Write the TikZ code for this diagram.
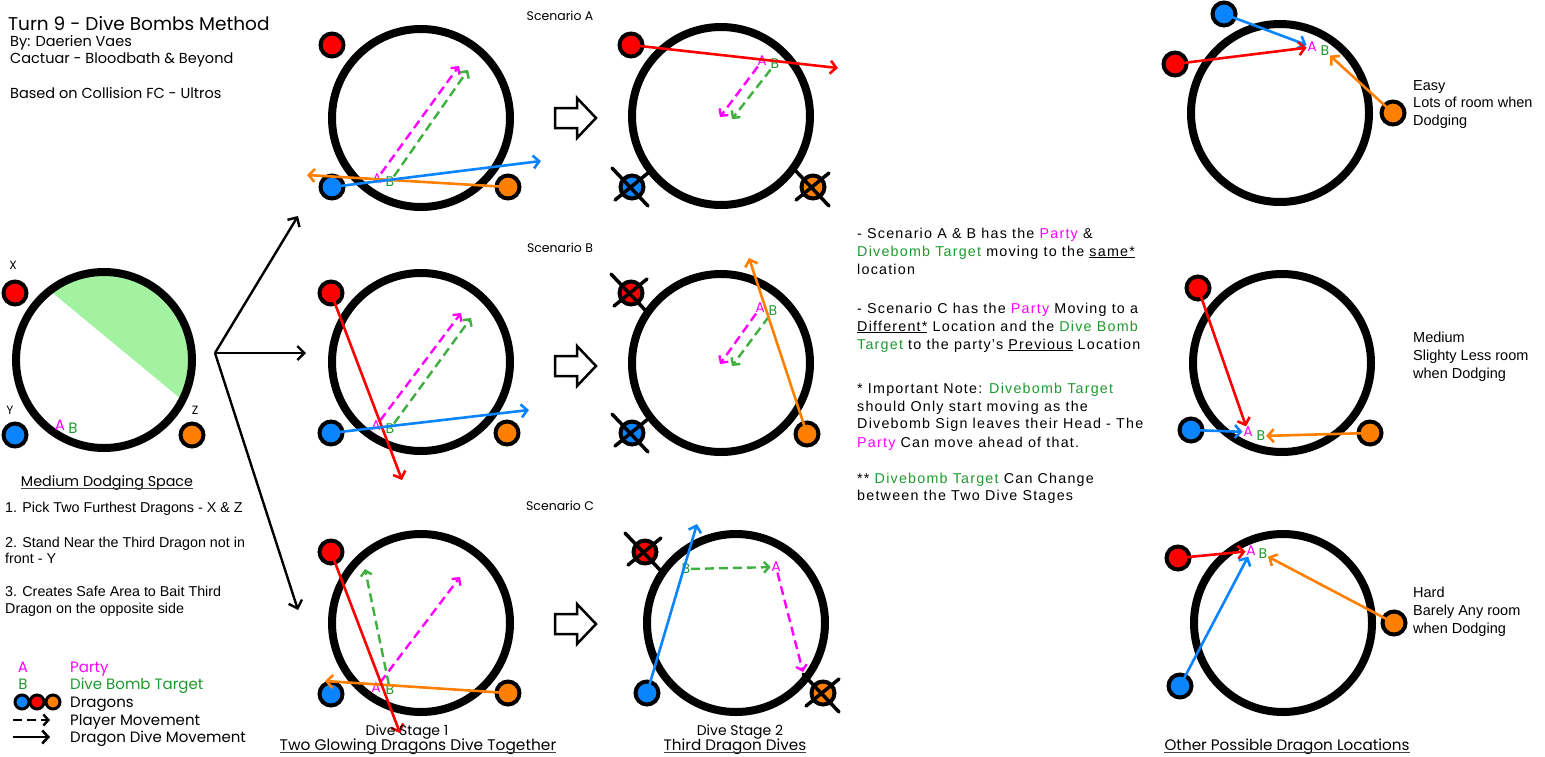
\documentclass[tikz,border=0pt]{standalone}
\usepackage{fontspec}
\setmainfont{Liberation Sans}
\newfontfamily\sty{Poppins}
\newfontfamily\midf[LetterSpace=8.5]{Liberation Sans}
\usetikzlibrary{arrows.meta,calc}
\definecolor{dred}{HTML}{FF0000}
\definecolor{dblue}{HTML}{0A84FF}
\definecolor{dorange}{HTML}{FF8000}
\definecolor{pmag}{HTML}{FF00FF}
\definecolor{tgreen}{HTML}{1E9A2E}
\definecolor{dgreen}{HTML}{3FAF3F}
\definecolor{safe}{HTML}{A2F2A2}
\newcommand{\pty}[1]{\textcolor{pmag}{#1}}
\newcommand{\dbt}[1]{\textcolor{tgreen}{#1}}
\newcommand{\xmark}[1]{%
  \draw[xline] ($(#1)+(-20,-19)$) -- ($(#1)+(16,19)$);
  \draw[xline] ($(#1)+(16,-14)$) -- ($(#1)+(-17,13)$);}
\newcommand{\blockarrow}[1]{%
  \draw[blk] ($(#1)+(0,-10)$) -- ($(#1)+(22,-10)$) -- ($(#1)+(22,-20)$) -- ($(#1)+(41,0)$)
     -- ($(#1)+(22,20)$) -- ($(#1)+(22,10)$) -- ($(#1)+(0,10)$) -- cycle;}
\newcommand{\ul}[1]{\draw[ulin] ([yshift=-2.3pt]#1.base west) -- ([yshift=-2.3pt]#1.base east);}
\begin{document}
\begin{tikzpicture}[x=1pt,y=-1pt,
  arena/.style={circle,draw=black,line width=8pt,minimum size=178pt,inner sep=0pt},
  dragon/.style={circle,draw=black,line width=4pt,minimum size=23pt,inner sep=0pt},
  ldragon/.style={circle,draw=black,line width=3pt,minimum size=14pt,inner sep=0pt},
  dive/.style={line width=2.6pt,-{Straight Barb[length=6pt,width=13pt]}},
  move/.style={line width=2.4pt,dash pattern=on 9pt off 5pt,-{Straight Barb[length=5pt,width=11pt]}},
  bigarr/.style={line width=2.4pt,-{Straight Barb[length=7pt,width=14pt]}},
  xline/.style={line width=3.5pt,line cap=round},
  blk/.style={draw=black,line width=2.5pt,fill=white,line join=miter},
  ulin/.style={draw=black!75,line width=0.9pt},
  lab/.style={inner sep=0.5pt,font=\sty\fontsize{14}{14}\selectfont},
  ty/.style={anchor=base west,inner sep=0pt,font=\sty\fontsize{14.5}{16}\selectfont},
  tyc/.style={anchor=base,inner sep=0pt,font=\sty\fontsize{14.5}{16}\selectfont},
  tx/.style={anchor=base west,inner sep=0pt,font=\fontsize{14.3}{17}\selectfont},
  tm/.style={anchor=base west,inner sep=0pt,font=\midf\fontsize{14.3}{17}\selectfont},
  tr/.style={anchor=base west,inner sep=0pt,font=\fontsize{14.5}{17}\selectfont}
]
\fill[white] (0,0) rectangle (1545,756);
\useasboundingbox (0,0) rectangle (1545,756);

% ---------- header ----------
\node[ty,font=\sty\fontsize{18.5}{20}\selectfont] (title) at (8,30) {Turn 9 - Dive Bombs Method};
\node[ty] (by) at (10,46) {By: Daerien Vaes};
\node[ty] (srv) at (10,63) {Cactuar - Bloodbath \& Beyond};
\node[ty] (based) at (10,98) {Based on Collision FC - Ultros};

% ---------- left arena ----------
\begin{scope}
  \clip (104,360) circle[radius=87];
  \fill[safe] (20,266) -- (215,427) -- (215,250) -- (20,250) -- cycle;
\end{scope}
\node[arena,minimum size=176pt] (Lc) at (104,360) {};
\node[dragon,fill=dred] (Lx) at (15,293) {};
\node[dragon,fill=dblue] (Ly) at (15,435) {};
\node[dragon,fill=dorange] (Lz) at (192,435) {};
\node[lab,font=\sty\fontsize{12}{12}\selectfont] (lX) at (13,265) {X};
\node[lab,font=\sty\fontsize{12}{12}\selectfont] (lY) at (10,410) {Y};
\node[lab,font=\sty\fontsize{12}{12}\selectfont] (lZ) at (195,410) {Z};
\node[lab,text=pmag,font=\sty\fontsize{15}{15}\selectfont] (LA) at (60,425) {A};
\node[lab,text=tgreen,font=\sty\fontsize{15}{15}\selectfont] (LB) at (73,428) {B};

\coordinate (fork) at (215,353);
\coordinate (toA) at (298,216);
\coordinate (toB) at (306,353);
\coordinate (toC) at (298,610);
\draw[bigarr] (fork) -- (toA);
\draw[bigarr] (fork) -- (toB);
\draw[bigarr] (fork) -- (toC);

\node[tyc,font=\sty\fontsize{14.3}{15}\selectfont] (mds) at (107,486) {Medium Dodging Space};
\ul{mds}
\node[tx] (s1) at (5,512) {1. Pick Two Furthest Dragons - X \& Z};
\node[tx] (s2) at (5,547) {2. Stand Near the Third Dragon not in};
\node[tx] (s2b) at (5,563) {front - Y};
\node[tx] (s3) at (5,596) {3. Creates Safe Area to Bait Third};
\node[tx] (s3b) at (5,613) {Dragon on the opposite side};

% legend
\node[tyc,text=pmag,font=\sty\fontsize{15}{15}\selectfont] (gA) at (23,672) {A};
\node[ty,text=pmag,font=\sty\fontsize{15}{15}\selectfont] (gAt) at (70,672) {Party};
\node[tyc,text=tgreen,font=\sty\fontsize{15}{15}\selectfont] (gB) at (23,689) {B};
\node[ty,text=tgreen,font=\sty\fontsize{15}{15}\selectfont] (gBt) at (70,689) {Dive Bomb Target};
\node[ldragon,fill=dblue] (gd1) at (22,702) {};
\node[ldragon,fill=dred] (gd2) at (37,702) {};
\node[ldragon,fill=dorange] (gd3) at (53,702) {};
\node[ty,font=\sty\fontsize{15}{15}\selectfont] (gDt) at (70,707) {Dragons};
\coordinate (gm1) at (13,720); \coordinate (gm2) at (50,720);
\draw[move,black] (gm1) -- (gm2);
\node[ty,font=\sty\fontsize{15}{15}\selectfont] (gMt) at (70,725) {Player Movement};
\coordinate (gv1) at (13,737); \coordinate (gv2) at (50,737);
\draw[dive,black] (gv1) -- (gv2);
\node[ty,font=\sty\fontsize{15}{15}\selectfont] (gVt) at (70,742) {Dragon Dive Movement};

% ---------- scenario labels ----------
\node[tyc,font=\sty\fontsize{12.5}{14}\selectfont] (scA) at (560,20) {Scenario A};
\node[tyc,font=\sty\fontsize{12.5}{14}\selectfont] (scB) at (560,252) {Scenario B};
\node[tyc,font=\sty\fontsize{12.5}{14}\selectfont] (scC) at (560,510) {Scenario C};

% ---------- block arrows ----------
\coordinate (ba1) at (555,118); \blockarrow{ba1}
\coordinate (ba2) at (555,366); \blockarrow{ba2}
\coordinate (ba3) at (555,624); \blockarrow{ba3}

% ---------- Scenario A left ----------
\node[arena] (a1) at (421,118) {};
\node[dragon,fill=dred] (a1r) at (332,45) {};
\node[dragon,fill=dblue] (a1b) at (332,187) {};
\node[dragon,fill=dorange] (a1o) at (508,187) {};
\node[lab,text=pmag] (a1A) at (377,179) {A};
\node[lab,text=tgreen] (a1B) at (390,182) {B};
\coordinate (a1Ae) at (459,66); \coordinate (a1Be) at (468,70);
\draw[move,pmag] (a1A) -- (a1Ae);
\draw[move,dgreen] (a1B) -- (a1Be);
\coordinate (a1oe) at (307,175); \coordinate (a1be) at (541,161);
\draw[dive,dorange] (a1o.center) -- (a1oe);
\draw[dive,dblue] (a1b.center) -- (a1be);

% ---------- Scenario A right ----------
\node[arena] (a2) at (721,116) {};
\node[dragon,fill=dblue] (a2b) at (632,187) {};
\node[dragon,fill=dorange] (a2o) at (813,187) {};
\xmark{a2b} \xmark{a2o}
\node[dragon,fill=dred] (a2r) at (631,45) {};
\node[lab,text=pmag] (a2A) at (762,61) {A};
\node[lab,text=tgreen] (a2B) at (775,64) {B};
\coordinate (a2Ae) at (720,117); \coordinate (a2Be) at (732,119);
\draw[move,pmag] (a2A) -- (a2Ae);
\draw[move,dgreen] (a2B) -- (a2Be);
\coordinate (a2re) at (838,68);
\draw[dive,dred] (a2r.center) -- (a2re);

% ---------- Scenario B left ----------
\node[arena] (b1) at (421,362) {};
\node[dragon,fill=dred] (b1r) at (331,293) {};
\node[dragon,fill=dblue] (b1b) at (331,433) {};
\node[dragon,fill=dorange] (b1o) at (507,433) {};
\node[lab,text=pmag] (b1A) at (376,426) {A};
\node[lab,text=tgreen] (b1B) at (390,429) {B};
\coordinate (b1Ae) at (461,313); \coordinate (b1Be) at (471,318);
\draw[move,pmag] (b1A) -- (b1Ae);
\draw[move,dgreen] (b1B) -- (b1Be);
\coordinate (b1re) at (402,480); \coordinate (b1be) at (529,410);
\draw[dive,dred] (b1r.center) -- (b1re);
\draw[dive,dblue] (b1b.center) -- (b1be);

% ---------- Scenario B right ----------
\node[arena] (b2) at (721,363) {};
\node[dragon,fill=dred] (b2r) at (631,293) {};
\node[dragon,fill=dblue] (b2b) at (632,433) {};
\xmark{b2r} \xmark{b2b}
\node[dragon,fill=dorange] (b2o) at (807,434) {};
\node[lab,text=pmag] (b2A) at (760,308) {A};
\node[lab,text=tgreen] (b2B) at (773,311) {B};
\coordinate (b2Ae) at (720,364); \coordinate (b2Be) at (732,366);
\draw[move,pmag] (b2A) -- (b2Ae);
\draw[move,dgreen] (b2B) -- (b2Be);
\coordinate (b2oe) at (749,258);
\draw[dive,dorange] (b2o.center) -- (b2oe);

% ---------- Scenario C left ----------
\node[arena] (c1) at (421,623) {};
\node[dragon,fill=dred] (c1r) at (331,552) {};
\node[dragon,fill=dblue] (c1b) at (331,694) {};
\node[dragon,fill=dorange] (c1o) at (508,693) {};
\node[lab,text=pmag] (c1A) at (376,688) {A};
\node[lab,text=tgreen] (c1B) at (390,690) {B};
\coordinate (c1Ae) at (460,577); \coordinate (c1Be) at (365,569);
\draw[move,pmag] (c1A) -- (c1Ae);
\draw[move,dgreen] (c1B) -- (c1Be);
\coordinate (c1re) at (400,733); \coordinate (c1oe) at (325,681);
\draw[dive,dorange] (c1o.center) -- (c1oe);
\draw[dive,dred] (c1r.center) -- (c1re);
\node[tyc,font=\sty\fontsize{14}{15}\selectfont] (ds1) at (407,735) {Dive Stage 1};
\node[tyc,font=\sty\fontsize{15.4}{16}\selectfont] (ds1b) at (418,750) {Two Glowing Dragons Dive Together};
\ul{ds1b}

% ---------- Scenario C right ----------
\node[arena] (c2) at (736,623) {};
\node[dragon,fill=dred] (c2r) at (645,552) {};
\node[dragon,fill=dorange] (c2o) at (823,693) {};
\xmark{c2r} \xmark{c2o}
\node[dragon,fill=dblue] (c2b) at (647,693) {};
\node[lab,text=tgreen] (c2B) at (686,569) {B};
\node[lab,text=pmag] (c2A) at (776,567) {A};
\draw[move,dgreen] (c2B) -- (c2A);
\coordinate (c2Ae) at (803,672);
\draw[move,pmag] (c2A) -- (c2Ae);
\coordinate (c2be) at (697,524);
\draw[dive,dblue] (c2b.center) -- (c2be);
\node[tyc,font=\sty\fontsize{14}{15}\selectfont] (ds2) at (740,735) {Dive Stage 2};
\node[tyc,font=\sty\fontsize{15.2}{16}\selectfont] (ds2b) at (735,750) {Third Dragon Dives};
\ul{ds2b}

% ---------- middle notes ----------
\node[tm] (m1) at (857,238) {- Scenario A \& B has the \pty{Party} \&};
\node[tm] (m2) at (857,256) {\dbt{Divebomb Target} moving to the \underline{same*}};
\node[tm] (m3) at (857,274) {location};
\node[tm] (m4) at (857,313) {- Scenario C has the \pty{Party} Moving to a};
\node[tm] (m5) at (857,331) {\underline{Different*} Location and the \dbt{Dive Bomb}};
\node[tm] (m6) at (857,349) {\dbt{Target} to the party’s \underline{Previous} Location};
\node[tm] (m7) at (857,393) {* Important Note: \dbt{Divebomb Target}};
\node[tm] (m8) at (857,411) {should Only start moving as the};
\node[tm] (m9) at (857,428) {Divebomb Sign leaves their Head - The};
\node[tm] (m10) at (857,447) {\pty{Party} Can move ahead of that.};
\node[tm] (m11) at (857,483) {** \dbt{Divebomb Target} Can Change};
\node[tm] (m12) at (857,500) {between the Two Dive Stages};

% ---------- right column: easy ----------
\node[arena] (r1) at (1280,113) {};
\node[dragon,fill=dblue] (r1b) at (1224,14) {};
\node[dragon,fill=dred] (r1r) at (1175,64) {};
\node[dragon,fill=dorange] (r1o) at (1393,113) {};
\node[lab,text=pmag] (r1A) at (1312,47) {A};
\node[lab,text=tgreen] (r1B) at (1325,51) {B};
\draw[dive,dblue] (r1b.center) -- (r1A);
\draw[dive,dred] (r1r.center) -- (r1A);
\draw[dive,dorange] (r1o.center) -- (r1B);
\node[tr] (e1) at (1413,90) {Easy};
\node[tr] (e2) at (1413,107) {Lots of room when};
\node[tr] (e3) at (1413,125) {Dodging};

% ---------- right column: medium ----------
\node[arena] (r2) at (1282,363) {};
\node[dragon,fill=dred] (r2r) at (1198,288) {};
\node[dragon,fill=dblue] (r2b) at (1191,430) {};
\node[dragon,fill=dorange] (r2o) at (1370,433) {};
\node[lab,text=pmag] (r2A) at (1248,432) {A};
\node[lab,text=tgreen] (r2B) at (1261,436) {B};
\draw[dive,dred] (r2r.center) -- (r2A);
\draw[dive,dblue] (r2b.center) -- (r2A);
\draw[dive,dorange] (r2o.center) -- (r2B);
\node[tr] (md1) at (1413,342) {Medium};
\node[tr] (md2) at (1413,360) {Slighty Less room};
\node[tr] (md3) at (1413,378) {when Dodging};

% ---------- right column: hard ----------
\node[arena] (r3) at (1283,623) {};
\node[dragon,fill=dred] (r3r) at (1178,558) {};
\node[dragon,fill=dblue] (r3b) at (1180,686) {};
\node[dragon,fill=dorange] (r3o) at (1394,623) {};
\node[lab,text=pmag] (r3A) at (1251,551) {A};
\node[lab,text=tgreen] (r3B) at (1263,554) {B};
\draw[dive,dred] (r3r.center) -- (r3A);
\draw[dive,dblue] (r3b.center) -- (r3A);
\draw[dive,dorange] (r3o.center) -- (r3B);
\node[tr] (h1) at (1413,597) {Hard};
\node[tr] (h2) at (1413,615) {Barely Any room};
\node[tr] (h3) at (1413,633) {when Dodging};

\node[tyc,font=\sty\fontsize{15.2}{16}\selectfont] (other) at (1287,750) {Other Possible Dragon Locations};
\ul{other}
\end{tikzpicture}
\end{document}
